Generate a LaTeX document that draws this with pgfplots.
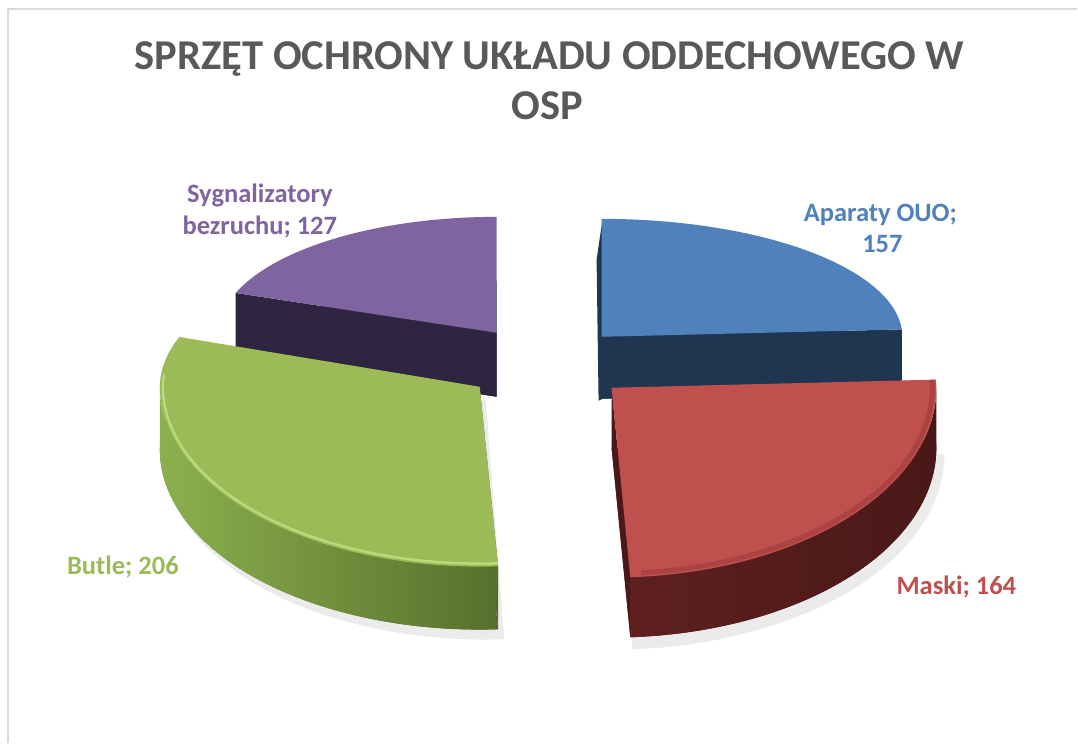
\documentclass[border=0pt]{standalone}
\usepackage{fontspec}
\setmainfont{Carlito}
\usepackage{pgfplots}
\pgfplotsset{compat=1.18}
\usepackage{pgfplotstable}

\definecolor{titleGray}{HTML}{595959}
\definecolor{apTop}{HTML}{4F81BD}
\definecolor{apWall}{HTML}{1F3550}
\definecolor{maTop}{HTML}{C0504D}
\definecolor{maWall}{HTML}{4A1818}
\definecolor{maBandL}{HTML}{5E201F}
\definecolor{maBandR}{HTML}{4A1818}
\definecolor{maRim}{HTML}{9E3C39}
\definecolor{buTop}{HTML}{9BBB59}
\definecolor{buWall}{HTML}{4F6628}
\definecolor{buBandL}{HTML}{8CB04E}
\definecolor{buBandR}{HTML}{56702C}
\definecolor{buHi}{HTML}{B8DA7A}
\definecolor{syTop}{HTML}{8064A2}
\definecolor{syWall}{HTML}{2E2540}
\definecolor{frame}{HTML}{D9D9D9}
\definecolor{shadow}{HTML}{E6E6E6}

\pgfplotstableread{
label value
Aparaty 157
Maski 164
Butle 206
Sygnalizatory 127
}\piedata

% point on the (perspective) ellipse: name, cx, cy, rx, ry-back, ry-front, angle, depth
\newcommand\arcpt[8]{%
  \pgfmathsetmacro\tmps{sin(#7)}%
  \pgfmathsetmacro\tmpry{\tmps>0 ? #5 : #6}%
  \expandafter\pgfmathsetmacro\csname #1x\endcsname{#2+#4*cos(#7)}%
  \expandafter\pgfmathsetmacro\csname #1y\endcsname{#3-\tmpry*\tmps}%
  \expandafter\pgfmathsetmacro\csname #1yd\endcsname{#3-\tmpry*\tmps+#8}%
}

\pgfplotstablegetelem{0}{value}\of\piedata \let\vA\pgfplotsretval
\pgfplotstablegetelem{1}{value}\of\piedata \let\vB\pgfplotsretval
\pgfplotstablegetelem{2}{value}\of\piedata \let\vC\pgfplotsretval
\pgfplotstablegetelem{3}{value}\of\piedata \let\vD\pgfplotsretval
\pgfmathsetmacro\tot{\vA+\vB+\vC+\vD}
\pgfmathsetmacro\angA{90-(\vA/\tot)*360}
\pgfmathsetmacro\angB{\angA-(\vB/\tot)*360}
\pgfmathsetmacro\angC{\angB-(\vC/\tot)*360}
\pgfmathsetmacro\angD{\angC-(\vD/\tot)*360}
\arcpt{apR}{602}{337}{301}{118}{118}{\angA}{62}
\arcpt{maL}{612}{388}{325}{130}{190}{\angB}{60}
\arcpt{buR}{480}{387}{320}{145}{180}{\angB}{63}
\arcpt{syL}{497}{333}{278}{116}{116}{\angC}{64}

\begin{document}%
\begin{tikzpicture}
\begin{axis}[scale only axis, width=1078bp, height=744bp,
  xmin=0, xmax=1078, ymin=0, ymax=744, y dir=reverse,
  hide axis, clip=false]
\fill[white] (axis cs:0,0) rectangle (axis cs:1078,744);
\draw[frame, line width=1.5bp] (axis cs:8,744) -- (axis cs:8,9) -- (axis cs:1078,9);

% ---- Sygnalizatory bezruchu (back left)
\addplot[fill=syWall, draw=none, domain=\angD:\angC, samples=80]
  ({497+278*cos(x)},{397-116*sin(x)}) -- (axis cs:497,397) -- cycle;
\addplot[fill=syWall, draw=none] coordinates {(497,333) (\syLx,\syLy) (\syLx,\syLyd) (497,397)};
\addplot[fill=syTop, draw=none, domain=\angD:\angC, samples=80]
  ({497+278*cos(x)},{333-116*sin(x)}) -- (axis cs:497,333) -- cycle;

% ---- Aparaty OUO (back right)
\addplot[fill=apWall, draw=none, domain=\angA:90, samples=80]
  ({602+301*cos(x)},{399-118*sin(x)}) -- (axis cs:602,399) -- cycle;
\addplot[fill=apWall, draw=none] coordinates {(602,337) (\apRx,\apRy) (\apRx,\apRyd) (602,399)};
\addplot[fill=apWall, draw=none] coordinates {(603,219) (603,399) (599,401) (597,260)};
\addplot[fill=apTop, draw=none, domain=\angA:90, samples=80]
  ({602+301*cos(x)},{337-118*sin(x)}) -- (axis cs:602,337) -- cycle;

% ---- Butle (front left)
\addplot[fill=shadow, draw=none, domain=-180:\angB, samples=100, opacity=0.8]
  ({486+322*cos(x)},{456-184*sin(x)}) -- (axis cs:486,400) -- cycle;
\addplot[fill=buWall, draw=none, domain=\angC:\angB, samples=100]
  ({480+320*cos(x)},{450-(sin(x)>0?145:180)*sin(x)}) -- (axis cs:480,450) -- cycle;
\addplot[fill=buWall, draw=none] coordinates {(480,387) (\buRx,\buRy) (\buRx,\buRyd) (480,450)};
\addplot[left color=buBandL, right color=buBandR, draw=none, domain=0:2, samples=401]
  ({480+320*cos(-180+(\angB+180)*min(x,2-x))},{387-180*sin(-180+(\angB+180)*min(x,2-x))+(x>1)*63});
\addplot[fill=buTop, draw=none, domain=\angC:\angB, samples=100]
  ({480+320*cos(x)},{387-(sin(x)>0?145:180)*sin(x)}) -- (axis cs:480,387) -- cycle;
\addplot[draw=buHi, line width=2.5bp, domain=-185:\angB, samples=100]
  ({480+317*cos(x)},{387-(sin(x)>0?143:177)*sin(x)});

% ---- Maski (front right)
\addplot[fill=shadow, draw=none, domain=\angB:0, samples=100, opacity=0.8]
  ({614+331*cos(x)},{455-195*sin(x)}) -- (axis cs:614,400) -- cycle;
\addplot[fill=maWall, draw=none, domain=\angB:\angA, samples=100]
  ({612+325*cos(x)},{448-(sin(x)>0?130:190)*sin(x)}) -- (axis cs:612,448) -- cycle;
\addplot[fill=maWall, draw=none] coordinates {(612,388) (\maLx,\maLy) (\maLx,\maLyd) (612,448)};
\addplot[left color=maBandL, right color=maBandR, draw=none, domain=0:2, samples=401]
  ({612+325*cos(\angB+(0-(\angB))*min(x,2-x))},{388-190*sin(\angB+(0-(\angB))*min(x,2-x))+(x>1)*60});
\addplot[fill=maTop, draw=none, domain=\angB:\angA, samples=100]
  ({612+325*cos(x)},{388-(sin(x)>0?130:190)*sin(x)}) -- (axis cs:612,388) -- cycle;
\addplot[draw=maRim, line width=5bp, opacity=0.6, domain=\angB+2:\angA, samples=100]
  ({612+321*cos(x)},{388-(sin(x)>0?128:186)*sin(x)});

% ---- texts
\node[anchor=base, text=titleGray, font=\fontsize{42.5bp}{50bp}\selectfont\bfseries]
  at (axis cs:550,70) {SPRZĘT OCHRONY UKŁADU ODDECHOWEGO W};
\node[anchor=base, text=titleGray, font=\fontsize{42.5bp}{50bp}\selectfont\bfseries]
  at (axis cs:548,120) {OSP};
\node[anchor=base, text=apTop, font=\fontsize{26.5bp}{31bp}\selectfont\bfseries] at (axis cs:881,222) {Aparaty OUO;};
\node[anchor=base, text=apTop, font=\fontsize{26.5bp}{31bp}\selectfont\bfseries] at (axis cs:883,253) {157};
\node[anchor=base, text=maTop, font=\fontsize{26.5bp}{31bp}\selectfont\bfseries] at (axis cs:957,595) {Maski; 164};
\node[anchor=base, text=buTop, font=\fontsize{26.5bp}{31bp}\selectfont\bfseries] at (axis cs:123,575) {Butle; 206};
\node[anchor=base, text=syTop, font=\fontsize{26.5bp}{31bp}\selectfont\bfseries] at (axis cs:260,203) {Sygnalizatory};
\node[anchor=base, text=syTop, font=\fontsize{26.5bp}{31bp}\selectfont\bfseries] at (axis cs:260,235) {bezruchu; 127};
\end{axis}
\end{tikzpicture}%
\end{document}
